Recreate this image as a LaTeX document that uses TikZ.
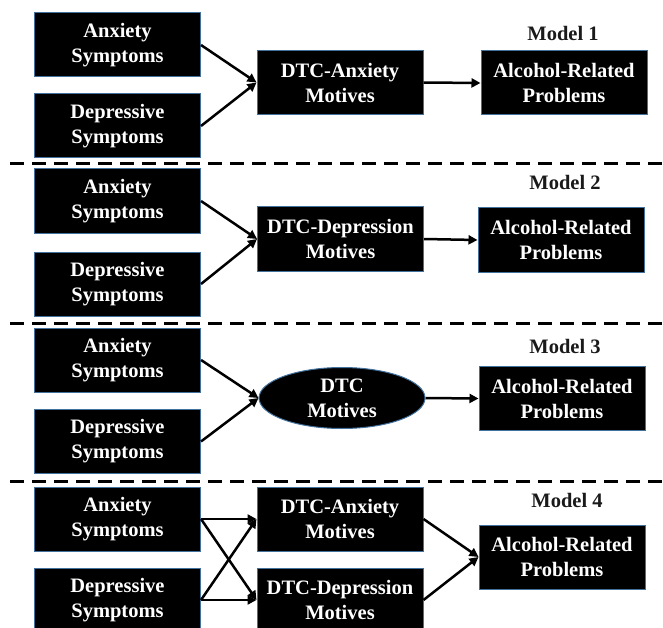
\documentclass[tikz,border=0pt]{standalone}
\usepackage{fontspec}
\setmainfont{Liberation Serif}
\usetikzlibrary{arrows.meta,shapes.geometric}
\definecolor{edgeblue}{HTML}{41719C}
\definecolor{lblgray}{HTML}{1A1A1A}
\begin{document}
\begin{tikzpicture}[x=1pt,y=-1pt,
  box/.style={draw=edgeblue, line width=1pt, fill=black, text=white,
    font=\bfseries\fontsize{20.5}{25}\selectfont, align=center,
    minimum width=166pt, minimum height=64pt, inner sep=0pt},
  oval/.style={box, ellipse, minimum width=166pt, minimum height=61pt},
  lbl/.style={font=\bfseries\fontsize{20.5}{24}\selectfont, text=lblgray},
  arr/.style={line width=2.5pt, -{Triangle[length=9pt,width=9pt]}},
  sep/.style={line width=3pt, dash pattern=on 14pt off 8pt}]
\useasboundingbox (0,0) rectangle (663,628);

% Model 1
\node[box] (A1) at (117.5,45) {Anxiety\\Symptoms};
\node[box] (D1) at (117.5,126) {Depressive\\Symptoms};
\node[box] (M1) at (340,82.5) {DTC-Anxiety\\Motives};
\node[box] (R1) at (564,83) {Alcohol-Related\\Problems};
\node[lbl] (L1) at (563,33) {Model 1};
\draw[arr] (A1.east) -- (M1.west);
\draw[arr] (D1.east) -- (M1.west);
\draw[arr] (M1.east) -- (R1.west);
\coordinate (s1a) at (10,164);
\coordinate (s1b) at (663,164);
\draw[sep] (s1a) -- (s1b);

% Model 2
\node[box] (A2) at (117.5,201) {Anxiety\\Symptoms};
\node[box] (D2) at (117.5,284) {Depressive\\Symptoms};
\node[box] (M2) at (340.5,239) {DTC-Depression\\Motives};
\node[box] (R2) at (561,240) {Alcohol-Related\\Problems};
\node[lbl] (L2) at (565,182) {Model 2};
\draw[arr] (A2.east) -- (M2.west);
\draw[arr] (D2.east) -- (M2.west);
\draw[arr] (M2.east) -- (R2.west);
\coordinate (s2a) at (10,323);
\coordinate (s2b) at (663,323);
\draw[sep] (s2a) -- (s2b);

% Model 3
\node[box] (A3) at (117.5,360) {Anxiety\\Symptoms};
\node[box] (D3) at (117.5,441.5) {Depressive\\Symptoms};
\node[oval] (M3) at (342,398) {DTC\\Motives};
\node[box] (R3) at (562,398.5) {Alcohol-Related\\Problems};
\node[lbl] (L3) at (565,346) {Model 3};
\draw[arr] (A3.east) -- (M3.west);
\draw[arr] (D3.east) -- (M3.west);
\draw[arr] (M3.east) -- (R3.west);
\coordinate (s3a) at (10,481);
\coordinate (s3b) at (663,481);
\draw[sep] (s3a) -- (s3b);

% Model 4
\node[box] (A4) at (117.5,519) {Anxiety\\Symptoms};
\node[box] (D4) at (117.5,600) {Depressive\\Symptoms};
\node[box] (M4a) at (340,519) {DTC-Anxiety\\Motives};
\node[box] (M4d) at (340,600) {DTC-Depression\\Motives};
\node[box] (R4) at (562,557) {Alcohol-Related\\Problems};
\node[lbl] (L4) at (567,500) {Model 4};
\draw[arr] (A4.east) -- (M4a.west);
\draw[arr] (A4.east) -- (M4d.west);
\draw[arr] (D4.east) -- (M4a.west);
\draw[arr] (D4.east) -- (M4d.west);
\draw[arr] (M4a.east) -- (R4.west);
\draw[arr] (M4d.east) -- (R4.west);
\end{tikzpicture}
\end{document}
